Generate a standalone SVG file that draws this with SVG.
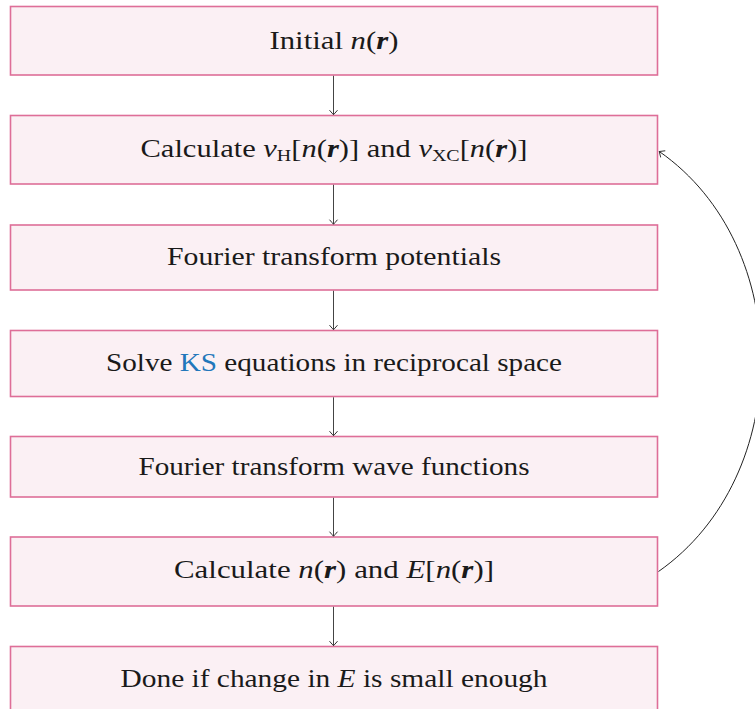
<svg xmlns="http://www.w3.org/2000/svg" width="755" height="709" viewBox="0 0 755 709">
<style>
.box{fill:#FBF0F4;stroke:#DE6E98;stroke-width:1.6}
.t{font-family:"Liberation Serif","Times New Roman",serif;font-size:26px;fill:#1a1a1a;text-anchor:middle}
.i{font-style:italic}
.b{font-style:italic;font-weight:bold}
.s{font-size:17px}
.ks{fill:#2277BB}
.c{fill:none;stroke:#444;stroke-width:1}
.loop{fill:none;stroke:#222;stroke-width:1}
</style>
<defs>
<marker id="ah" markerUnits="userSpaceOnUse" markerWidth="12" markerHeight="12" refX="0" refY="0" viewBox="-6 -6 12 12" orient="auto">
<path d="M-4.5,-4 Q-1,-1 0,0 Q-1,1 -4.5,4" fill="none" stroke="#333" stroke-width="1"/>
</marker>
</defs>
<g id="n1"><rect class="box" x="10.5" y="6.5" width="647" height="68.5"/>
<text class="t" x="334" y="48.5" textLength="129" lengthAdjust="spacingAndGlyphs">Initial <tspan class="i">n</tspan>(<tspan class="b">r</tspan>)</text></g>
<g id="n2"><rect class="box" x="10.5" y="115.5" width="647" height="68.5"/>
<text class="t" x="334" y="157" textLength="387" lengthAdjust="spacingAndGlyphs">Calculate <tspan class="i">v</tspan><tspan class="s" dy="4">H</tspan><tspan dy="-4">[</tspan><tspan class="i">n</tspan>(<tspan class="b">r</tspan>)] and <tspan class="i">v</tspan><tspan class="s" dy="4">XC</tspan><tspan dy="-4">[</tspan><tspan class="i">n</tspan>(<tspan class="b">r</tspan>)]</text></g>
<g id="n3"><rect class="box" x="10.5" y="225" width="647" height="65"/>
<text class="t" x="334" y="265" textLength="334" lengthAdjust="spacingAndGlyphs">Fourier transform potentials</text></g>
<g id="n4"><rect class="box" x="10.5" y="330.5" width="647" height="66"/>
<text class="t" x="334" y="371" textLength="456" lengthAdjust="spacingAndGlyphs">Solve <tspan class="ks">KS</tspan> equations in reciprocal space</text></g>
<g id="n5"><rect class="box" x="10.5" y="436.5" width="647" height="60.5"/>
<text class="t" x="334" y="474.5" textLength="391" lengthAdjust="spacingAndGlyphs">Fourier transform wave functions</text></g>
<g id="n6"><rect class="box" x="10.5" y="537" width="647" height="69"/>
<text class="t" x="334" y="578" textLength="320" lengthAdjust="spacingAndGlyphs">Calculate <tspan class="i">n</tspan>(<tspan class="b">r</tspan>) and <tspan class="i">E</tspan>[<tspan class="i">n</tspan>(<tspan class="b">r</tspan>)]</text></g>
<g id="n7"><rect class="box" x="10.5" y="646.5" width="647" height="72"/>
<text class="t" x="334" y="687" textLength="427" lengthAdjust="spacingAndGlyphs">Done if change in <tspan class="i">E</tspan> is small enough</text></g>
<g id="connectors">
<line class="c" x1="333.5" y1="75.8" x2="333.5" y2="114.7" marker-end="url(#ah)"/>
<line class="c" x1="333.5" y1="184.8" x2="333.5" y2="224.2" marker-end="url(#ah)"/>
<line class="c" x1="333.5" y1="290.8" x2="333.5" y2="329.7" marker-end="url(#ah)"/>
<line class="c" x1="333.5" y1="397.3" x2="333.5" y2="435.7" marker-end="url(#ah)"/>
<line class="c" x1="333.5" y1="497.8" x2="333.5" y2="536.2" marker-end="url(#ah)"/>
<line class="c" x1="333.5" y1="606.8" x2="333.5" y2="645.7" marker-end="url(#ah)"/>
<path class="loop" d="M658.5,571.5 C795,476 795,246 659.3,151.5" marker-end="url(#ah)"/>
</g>
</svg>
